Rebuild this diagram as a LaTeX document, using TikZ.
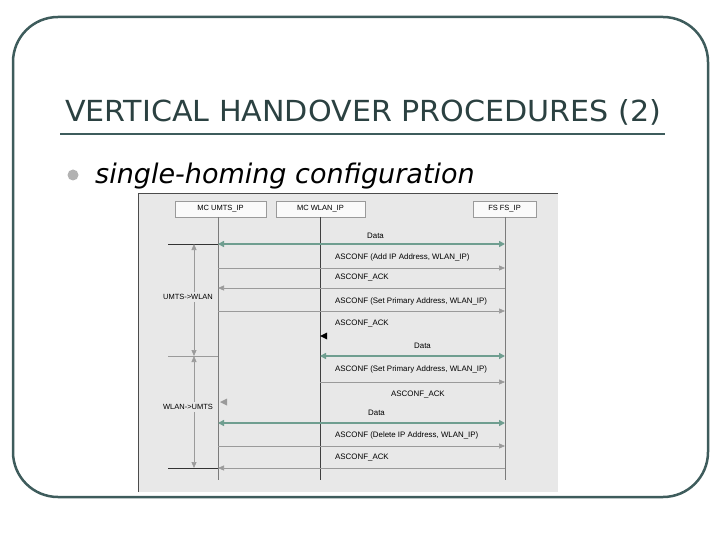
\documentclass[tikz,border=0pt]{standalone}
\usepackage{fontspec}
\setmainfont{Liberation Sans}
\newfontfamily\dvs{DejaVu Sans}
\usetikzlibrary{arrows.meta}
\definecolor{frame}{HTML}{3E5C5C}
\definecolor{teal}{HTML}{6F9E90}
\definecolor{msg}{HTML}{9A9A9A}
\begin{document}
\begin{tikzpicture}[x=1pt,y=-1pt,
  lbl/.style={font=\fontsize{7.9}{9}\selectfont,anchor=west,inner sep=0},
  box/.style={draw=msg,fill=white!96!gray,minimum height=16,font=\fontsize{7.5}{8}\selectfont,inner sep=0},
  life/.style={draw=msg!80!black,line width=0.8},
  m/.style={draw=msg,line width=0.6,-{Triangle[length=6,width=5]}},
  dat/.style={draw=teal,line width=1.6,{Triangle[length=6,width=6]}-{Triangle[length=6,width=6]}}]
\useasboundingbox (0,0) rectangle (720,540);
\draw[frame,line width=2.5,rounded corners=45] (13,17) rectangle (708,497);
\node[anchor=base west,inner sep=0,font=\dvs\fontsize{29}{32}\selectfont,text=frame!70!black,xscale=1.04] (title) at (65,122) {VERTICAL HANDOVER PROCEDURES (2)};
\draw[frame,line width=2.8] (60,134) -- (665,134);
\fill[gray!60] (73,175) circle (5.5);
\node[anchor=base west,inner sep=0,font=\dvs\fontsize{27}{30}\selectfont\itshape] (sub) at (95,184) {single-homing configuration};
% diagram
\fill[gray!18] (138,193) rectangle (558,492);
\draw[black!70,line width=0.8] (138,492) -- (138,193) -- (558,193);
\node[box,minimum width=91] (u) at (220.5,209) {MC UMTS\_IP};
\node[box,minimum width=89] (w) at (320.5,209) {MC WLAN\_IP};
\node[box,minimum width=63] (f) at (504.5,209) {FS FS\_IP};
\coordinate (ue) at (218,480); \coordinate (we) at (320,480); \coordinate (fe) at (505,480);
\draw[life] (218,217) -- (ue);
\draw[black!75,line width=0.9] (320,217) -- (we);
\draw[life] (505,217) -- (fe);
% messages
\draw[dat] (218,244) -- (505,244); \node[lbl] at (367,236) {Data};
\draw[m] (218,268) -- (505,268); \node[lbl] at (335,257) {ASCONF (Add IP Address, WLAN\_IP)};
\draw[m] (505,288) -- (218,288); \node[lbl] at (335,278) {ASCONF\_ACK};
\draw[m] (218,311) -- (505,311); \node[lbl] at (335,301) {ASCONF (Set Primary Address, WLAN\_IP)};
\node[lbl] at (335,324) {ASCONF\_ACK};
\fill[black] (320,336) -- (327,332.5) -- (327,339.5) -- cycle;
\draw[dat] (320,356) -- (505,356); \node[lbl] at (414,346) {Data};
\draw[m] (320,382) -- (505,382); \node[lbl] at (335,369) {ASCONF (Set Primary Address, WLAN\_IP)};
\node[lbl] at (391,395) {ASCONF\_ACK};
\fill[msg] (220,402) -- (227,398.5) -- (227,405.5) -- cycle;
\draw[dat] (218,423) -- (505,423); \node[lbl] at (368,413) {Data};
\draw[m] (218,446) -- (505,446); \node[lbl] at (335,435) {ASCONF (Delete IP Address, WLAN\_IP)};
\draw[m] (505,468) -- (218,468); \node[lbl] at (335,458) {ASCONF\_ACK};
% brackets
\draw[black!80,line width=0.6] (168,244) -- (218,244);
\draw[msg,line width=0.6] (168,356) -- (218,356);
\draw[black!80,line width=0.6] (168,468) -- (218,468);
\draw[msg,line width=0.6,{Triangle[length=6,width=5]}-{Triangle[length=6,width=5]}] (194,244) -- (194,356);
\draw[msg,line width=0.6,{Triangle[length=6,width=5]}-{Triangle[length=6,width=5]}] (194,356) -- (194,468);
\fill[gray!18] (158,292) rectangle (217,302);
\node[font=\fontsize{7.5}{8}\selectfont,inner sep=0] at (188,297) {UMTS->WLAN};
\fill[gray!18] (158,402) rectangle (217,412);
\node[font=\fontsize{7.5}{8}\selectfont,inner sep=0] at (188,407) {WLAN->UMTS};
\end{tikzpicture}
\end{document}
